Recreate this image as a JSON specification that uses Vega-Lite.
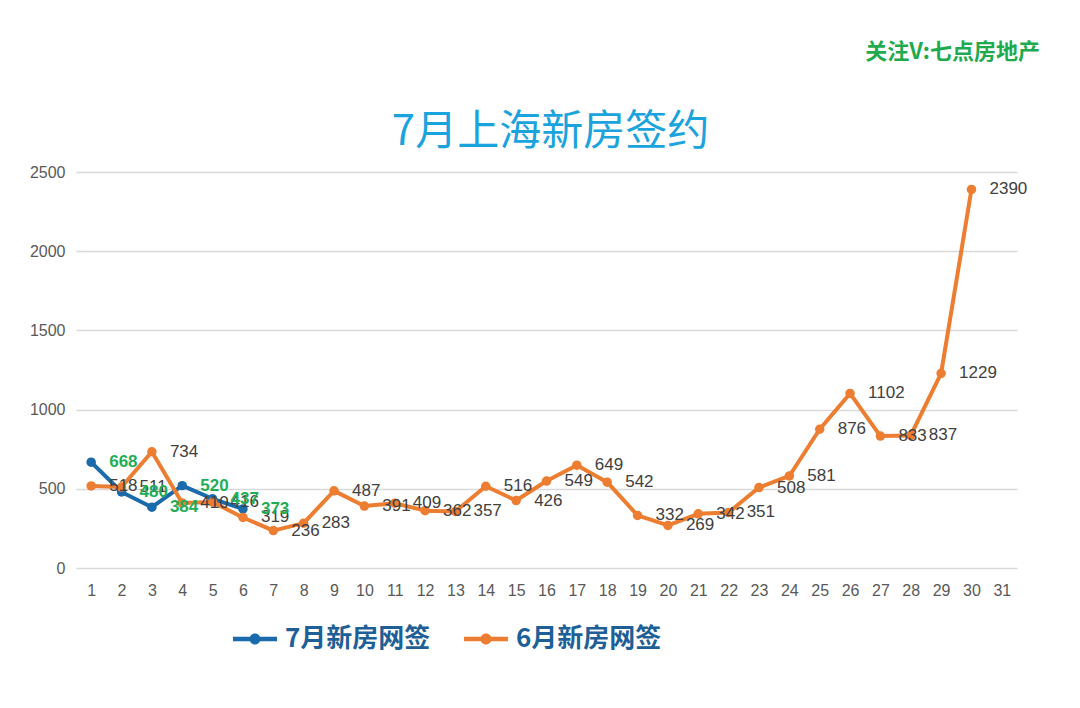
{
  "$schema": "https://vega.github.io/schema/vega-lite/v6.json",
  "autosize": {"type": "none"},
  "width": 941,
  "height": 396,
  "padding": {"left": 76, "top": 172, "right": 63, "bottom": 140},
  "background": "white",
  "title": {
    "text": "关注V:七点房地产",
    "font": "Noto Sans CJK SC",
    "fontSize": 22,
    "fontWeight": "bold",
    "color": "#1faa4f",
    "anchor": "end",
    "frame": "group",
    "dx": 23,
    "offset": 46
  },
  "data": {
    "values": [
      {"day": 1, "series": "7月新房网签", "value": 668},
      {"day": 2, "series": "7月新房网签", "value": 480},
      {"day": 3, "series": "7月新房网签", "value": 384},
      {"day": 4, "series": "7月新房网签", "value": 520},
      {"day": 5, "series": "7月新房网签", "value": 437},
      {"day": 6, "series": "7月新房网签", "value": 373},
      {"day": 1, "series": "6月新房网签", "value": 518},
      {"day": 2, "series": "6月新房网签", "value": 511},
      {"day": 3, "series": "6月新房网签", "value": 734},
      {"day": 4, "series": "6月新房网签", "value": 410},
      {"day": 5, "series": "6月新房网签", "value": 416},
      {"day": 6, "series": "6月新房网签", "value": 319},
      {"day": 7, "series": "6月新房网签", "value": 236},
      {"day": 8, "series": "6月新房网签", "value": 283},
      {"day": 9, "series": "6月新房网签", "value": 487},
      {"day": 10, "series": "6月新房网签", "value": 391},
      {"day": 11, "series": "6月新房网签", "value": 409},
      {"day": 12, "series": "6月新房网签", "value": 362},
      {"day": 13, "series": "6月新房网签", "value": 357},
      {"day": 14, "series": "6月新房网签", "value": 516},
      {"day": 15, "series": "6月新房网签", "value": 426},
      {"day": 16, "series": "6月新房网签", "value": 549},
      {"day": 17, "series": "6月新房网签", "value": 649},
      {"day": 18, "series": "6月新房网签", "value": 542},
      {"day": 19, "series": "6月新房网签", "value": 332},
      {"day": 20, "series": "6月新房网签", "value": 269},
      {"day": 21, "series": "6月新房网签", "value": 342},
      {"day": 22, "series": "6月新房网签", "value": 351},
      {"day": 23, "series": "6月新房网签", "value": 508},
      {"day": 24, "series": "6月新房网签", "value": 581},
      {"day": 25, "series": "6月新房网签", "value": 876},
      {"day": 26, "series": "6月新房网签", "value": 1102},
      {"day": 27, "series": "6月新房网签", "value": 833},
      {"day": 28, "series": "6月新房网签", "value": 837},
      {"day": 29, "series": "6月新房网签", "value": 1229},
      {"day": 30, "series": "6月新房网签", "value": 2390}
    ]
  },
  "encoding": {
    "x": {
      "field": "day",
      "type": "quantitative",
      "scale": {"domain": [0.5, 31.5], "nice": false, "zero": false},
      "axis": {
        "values": [1,2,3,4,5,6,7,8,9,10,11,12,13,14,15,16,17,18,19,20,21,22,23,24,25,26,27,28,29,30,31],
        "title": null,
        "grid": false,
        "domain": false,
        "ticks": false,
        "labelFont": "Liberation Sans",
        "labelFontSize": 16,
        "labelColor": "#595959",
        "labelPadding": 14
      }
    },
    "y": {
      "field": "value",
      "type": "quantitative",
      "scale": {"domain": [0, 2500], "nice": false},
      "axis": {
        "values": [0, 500, 1000, 1500, 2000, 2500],
        "format": "d",
        "title": "7月上海新房签约",
        "titleAngle": 0,
        "titleAlign": "center",
        "titleBaseline": "alphabetic",
        "titleX": 474,
        "titleY": -28,
        "titleFont": "Noto Sans CJK SC",
        "titleFontSize": 42,
        "titleFontWeight": "normal",
        "titleColor": "#1aa3dc",
        "domain": false,
        "ticks": false,
        "gridColor": "#d9d9d9",
        "gridWidth": 1.5,
        "labelFont": "Liberation Sans",
        "labelFontSize": 16,
        "labelColor": "#595959",
        "labelPadding": 11
      }
    }
  },
  "layer": [
    {
      "mark": {"type": "line", "strokeWidth": 4, "strokeCap": "round", "strokeJoin": "round"},
      "encoding": {
        "color": {
          "field": "series",
          "type": "nominal",
          "sort": ["7月新房网签", "6月新房网签"],
          "scale": {"domain": ["7月新房网签", "6月新房网签"], "range": ["#1b6aab", "#ed7d31"]},
          "legend": {
            "orient": "none",
            "legendX": 157,
            "legendY": 445,
            "direction": "horizontal",
            "title": null,
            "symbolType": "M-1,-0.1L1,-0.1L1,0.1L-1,0.1Z M-0.25,0A0.25,0.25 0 1,1 0.25,0A0.25,0.25 0 1,1 -0.25,0Z",
            "symbolSize": 1936,
            "symbolStrokeWidth": 0,
            "labelFont": "Noto Sans CJK SC",
            "labelFontSize": 26,
            "labelFontWeight": "bold",
            "labelColor": "#1d5f96",
            "labelOffset": 8,
            "columnPadding": 33,
            "encode": {
              "symbols": {"update": {"fill": {"scale": "color", "field": "value"}, "strokeWidth": {"value": 0}}}
            }
          }
        },
        "order": {"field": "day"}
      }
    },
    {
      "mark": {"type": "point", "filled": true, "size": 90, "opacity": 1},
      "encoding": {
        "color": {
          "field": "series",
          "type": "nominal",
          "scale": {"domain": ["7月新房网签", "6月新房网签"], "range": ["#1f77c8", "#ed7d31"]},
          "legend": null
        }
      }
    },
    {
      "transform": [{"filter": "datum.series === '6月新房网签'"}],
      "mark": {"type": "text", "align": "left", "baseline": "middle", "dx": 18, "font": "Liberation Sans", "fontSize": 17, "color": "#404040"},
      "encoding": {"text": {"field": "value", "type": "quantitative"}}
    },
    {
      "transform": [{"filter": "datum.series === '7月新房网签'"}],
      "mark": {"type": "text", "align": "left", "baseline": "middle", "dx": 18, "font": "Liberation Sans", "fontSize": 17, "fontWeight": "bold", "color": "#1fae55"},
      "encoding": {"text": {"field": "value", "type": "quantitative"}}
    }
  ],
  "config": {"view": {"stroke": null}}
}
